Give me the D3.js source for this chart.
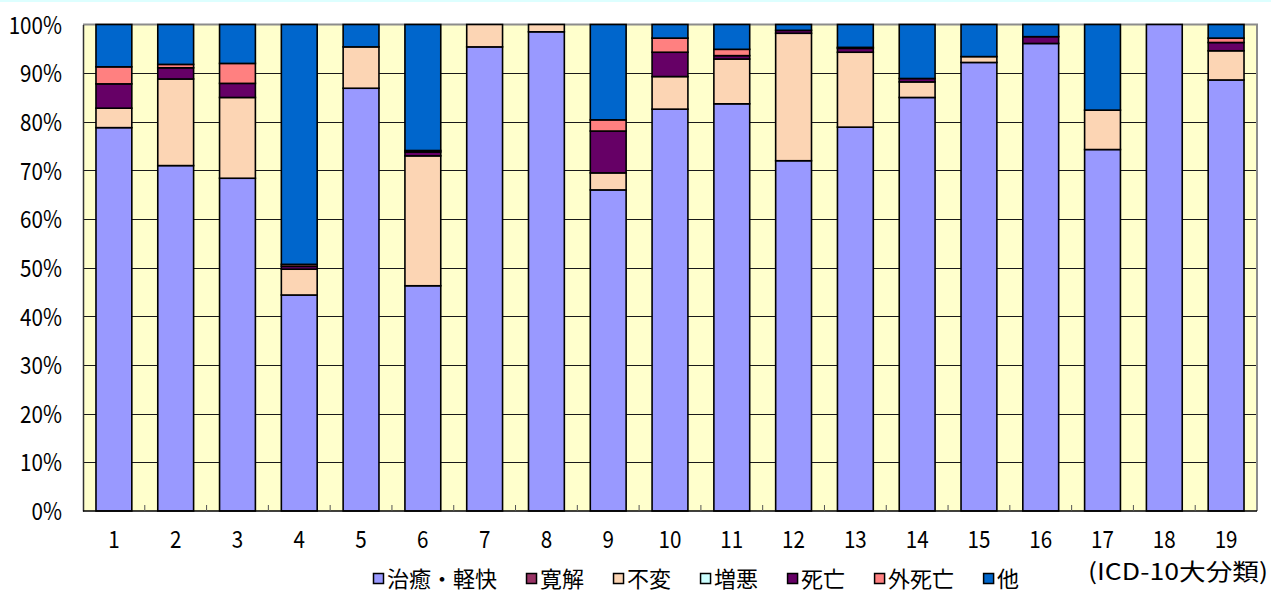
<!DOCTYPE html>
<html>
<head>
<meta charset="utf-8">
<script src="https://cdn.jsdelivr.net/npm/d3@7"></script>
<style>
  html, body { margin: 0; padding: 0; background: #fff; }
  svg { display: block; }
  text { font-family: "Noto Sans CJK JP", "Noto Sans", sans-serif; fill: #000; }
</style>
</head>
<body>
<svg id="chart" width="1271" height="592"></svg>
<script>
// ICD-10 chapter numbers
const categories = ["1","2","3","4","5","6","7","8","9","10","11","12","13","14","15","16","17","18","19"];

// Outcome series, share of discharges (%)
const seriesNames = ["治癒・軽快", "寛解", "不変", "増悪", "死亡", "外死亡", "他"];
const curedImproved = [78.8, 71.0, 68.4, 44.4, 86.9, 46.3, 95.4, 98.5, 66.0, 82.6, 83.7, 72.0, 78.9, 85.0, 92.2, 96.1, 74.3, 100, 88.6];
const remission     = [0, 0, 0, 0, 0, 0, 0, 0, 0, 0, 0, 0, 0, 0, 0, 0, 0, 0, 0];
const unchanged     = [4.0, 17.8, 16.6, 5.3, 8.5, 26.7, 4.6, 1.5, 3.5, 6.7, 9.2, 26.2, 15.4, 3.2, 1.2, 0, 8.1, 0, 6.0];
const worsened      = [0, 0, 0, 0, 0, 0, 0, 0, 0, 0, 0, 0, 0, 0, 0, 0, 0, 0, 0];
const died          = [5.0, 2.3, 2.9, 0.6, 0, 0.8, 0, 0, 8.6, 5.0, 0.7, 0.6, 0.8, 0.7, 0, 1.4, 0, 0, 1.7];
const diedOther     = [3.5, 0.7, 4.1, 0.4, 0, 0.3, 0, 0, 2.3, 2.9, 1.3, 0, 0.2, 0, 0, 0, 0, 0, 0.9];
const other         = [8.7, 8.2, 8.0, 49.3, 4.6, 25.9, 0, 0, 19.6, 2.8, 5.1, 1.2, 4.7, 11.1, 6.6, 2.5, 17.6, 0, 2.8];
const seriesValues = [curedImproved, remission, unchanged, worsened, died, diedOther, other];

const yTicks = [0, 10, 20, 30, 40, 50, 60, 70, 80, 90, 100];
const seriesColors = ["#9999FF", "#993366", "#FCD5B4", "#CCFFFF", "#660066", "#FF8080", "#0066CC"];

const svg = d3.select("#chart");
const plot = { left: 83, right: 1257, top: 24.5, bottom: 511 };
const SX = 0.86; // horizontal squeeze for the narrow label face

// thin cyan rule along the very top edge
svg.append("rect").attr("x", 0).attr("y", 0).attr("width", 1271).attr("height", 2).attr("fill", "#DDFFFF");

const x = d3.scaleBand().domain(categories).range([plot.left, plot.right]).paddingInner(0.42).paddingOuter(0.21);
const y = d3.scaleLinear().domain([0, 100]).range([plot.bottom, plot.top]);

// plot background
svg.append("rect")
  .attr("x", plot.left).attr("y", plot.top)
  .attr("width", plot.right - plot.left).attr("height", plot.bottom - plot.top)
  .attr("fill", "#FFFFCC");

// horizontal gridlines
svg.append("g").selectAll("line")
  .data(yTicks.filter(t => t > 0 && t < 100))
  .join("line")
  .attr("x1", plot.left).attr("x2", plot.right)
  .attr("y1", d => Math.round(y(d)) + 0.5).attr("y2", d => Math.round(y(d)) + 0.5)
  .attr("stroke", "#1a1a1a").attr("stroke-width", 1);

// top and right frame
svg.append("path")
  .attr("d", `M${plot.left},${plot.top}H${plot.right}V${plot.bottom}`)
  .attr("fill", "none").attr("stroke", "#8c8c8c").attr("stroke-width", 2);

// stacked bars
const rows = categories.map((c, i) => {
  const r = { cat: c };
  seriesNames.forEach((s, k) => { r[s] = seriesValues[k][i]; });
  return r;
});
const stacked = d3.stack().keys(seriesNames)(rows);

svg.append("g").selectAll("g")
  .data(stacked)
  .join("g")
  .attr("fill", (d, k) => seriesColors[k])
  .selectAll("rect")
  .data(d => d.filter(p => p[1] - p[0] > 0))
  .join("rect")
  .attr("x", p => x(p.data.cat))
  .attr("width", x.bandwidth())
  .attr("y", p => y(p[1]))
  .attr("height", p => y(p[0]) - y(p[1]))
  .attr("stroke", "#000")
  .attr("stroke-width", 1.6);

// left axis
const yAxis = svg.append("g")
  .attr("transform", `translate(${plot.left},0)`)
  .call(d3.axisLeft(y).tickValues(yTicks).tickSize(0).tickPadding(0).tickFormat(d => d + "%"));
yAxis.select(".domain").attr("stroke", "#333").attr("stroke-width", 1.5);
yAxis.selectAll("text")
  .attr("font-size", 24)
  .attr("font-family", "\"Noto Sans CJK JP\", sans-serif")
  .attr("x", -21 / SX)
  .attr("dy", "0.36em")
  .attr("transform", `scale(${SX},1)`);

// bottom axis with inward ticks between categories
const xAxis = svg.append("g").attr("transform", `translate(0,${plot.bottom})`);
xAxis.append("line")
  .attr("x1", plot.left).attr("x2", plot.right)
  .attr("y1", 0).attr("y2", 0)
  .attr("stroke", "#000").attr("stroke-width", 1.5);
const step = x.step();
xAxis.selectAll("line.tk")
  .data(categories.slice(1))
  .join("line").attr("class", "tk")
  .attr("x1", c => x(c) - (step - x.bandwidth()) / 2)
  .attr("x2", c => x(c) - (step - x.bandwidth()) / 2)
  .attr("y1", 0).attr("y2", -6)
  .attr("stroke", "#555").attr("stroke-width", 1);
xAxis.selectAll("text")
  .data(categories)
  .join("text")
  .attr("transform", c => `translate(${x(c) + x.bandwidth() / 2},28) scale(${SX},1)`)
  .attr("text-anchor", "middle")
  .attr("dy", "0.36em")
  .attr("font-size", 24)
  .text(c => c);

// axis caption
svg.append("text")
  .attr("x", 1268).attr("y", 572)
  .attr("text-anchor", "end")
  .attr("dy", "0.36em")
  .attr("font-size", 23)
  .attr("textLength", 180)
  .attr("lengthAdjust", "spacingAndGlyphs")
  .text("(ICD-10大分類)");

// legend
const legend = svg.append("g").attr("transform", "translate(373,580)");
let lx = 0;
seriesNames.forEach((name, k) => {
  const g = legend.append("g").attr("transform", `translate(${lx},0)`);
  g.append("rect")
    .attr("x", 0.5).attr("y", -6.5).attr("width", 10).attr("height", 10)
    .attr("fill", seriesColors[k]).attr("stroke", "#000").attr("stroke-width", 1.5);
  const t = g.append("text")
    .attr("x", 14).attr("y", 0)
    .attr("dy", "0.33em")
    .attr("font-size", 22)
    .text(name);
  lx += 14 + t.node().getComputedTextLength() + 29;
});
</script>
</body>
</html>
